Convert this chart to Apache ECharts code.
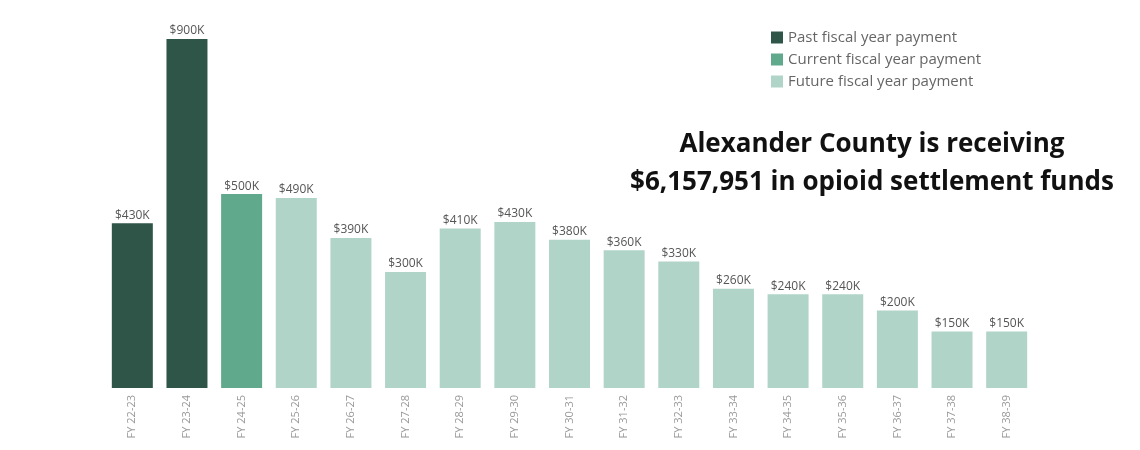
<!DOCTYPE html>
<html><head><meta charset="utf-8">
<script src="https://cdn.jsdelivr.net/npm/echarts@6/dist/echarts.min.js"></script>
<style>html,body{margin:0;padding:0;background:#fff}#c{width:1140px;height:450px}</style>
</head><body><div id="c"></div>
<script>
const categories = ["FY 22-23","FY 23-24","FY 24-25","FY 25-26","FY 26-27","FY 27-28","FY 28-29","FY 29-30","FY 30-31","FY 31-32","FY 32-33","FY 33-34","FY 34-35","FY 35-36","FY 36-37","FY 37-38","FY 38-39"];
// payment amounts in thousands of dollars
const payments = [425, 900, 500, 490, 387, 299, 411, 428, 382, 355, 326, 256, 242, 242, 200, 146, 146];
// 0 = past, 1 = current, 2 = future
const status = [0, 0, 1, 2, 2, 2, 2, 2, 2, 2, 2, 2, 2, 2, 2, 2, 2];
const seriesNames = ["Past fiscal year payment", "Current fiscal year payment", "Future fiscal year payment"];
const colors = ["#2e5547", "#60a98c", "#b1d4c9"];
const titleLines = ["Alexander County is receiving", "$6,157,951 in opioid settlement funds"];

const series = seriesNames.map((name, s) => ({
  name, type: 'bar', stack: 'pay', barWidth: 41,
  itemStyle: { color: colors[s] },
  data: payments.map((v, i) => status[i] === s ? v : '-'),
  label: {
    show: true, position: 'top', distance: 2,
    fontFamily: 'Open Sans', fontSize: 12, color: '#555',
    formatter: p => '$' + Math.round(p.value / 10) * 10 + 'K'
  }
}));

const chart = echarts.init(document.getElementById('c'));
chart.setOption({
  animation: false,
  grid: { left: 105, right: 106, top: 39, bottom: 62, containLabel: false },
  legend: {
    orient: 'vertical', left: 766, top: 25, itemWidth: 12, itemHeight: 12, itemGap: 7,
    icon: 'rect', textStyle: { fontFamily: 'Open Sans', fontSize: 15, color: '#666' },
    data: seriesNames
  },
  xAxis: {
    type: 'category', data: categories,
    axisLine: { show: false }, axisTick: { show: false },
    axisLabel: { rotate: 90, fontFamily: 'Open Sans', fontSize: 11, color: '#999', margin: 7 }
  },
  yAxis: { type: 'value', min: 0, max: 900, show: false, splitLine: { show: false } },
  graphic: [{
    type: 'text', x: 872, y: 126,
    style: {
      text: titleLines.join('\n'),
      font: 'bold 26px "Open Sans"', fill: '#111', lineHeight: 38, align: 'center'
    }
  }],
  series
});
</script></body></html>
